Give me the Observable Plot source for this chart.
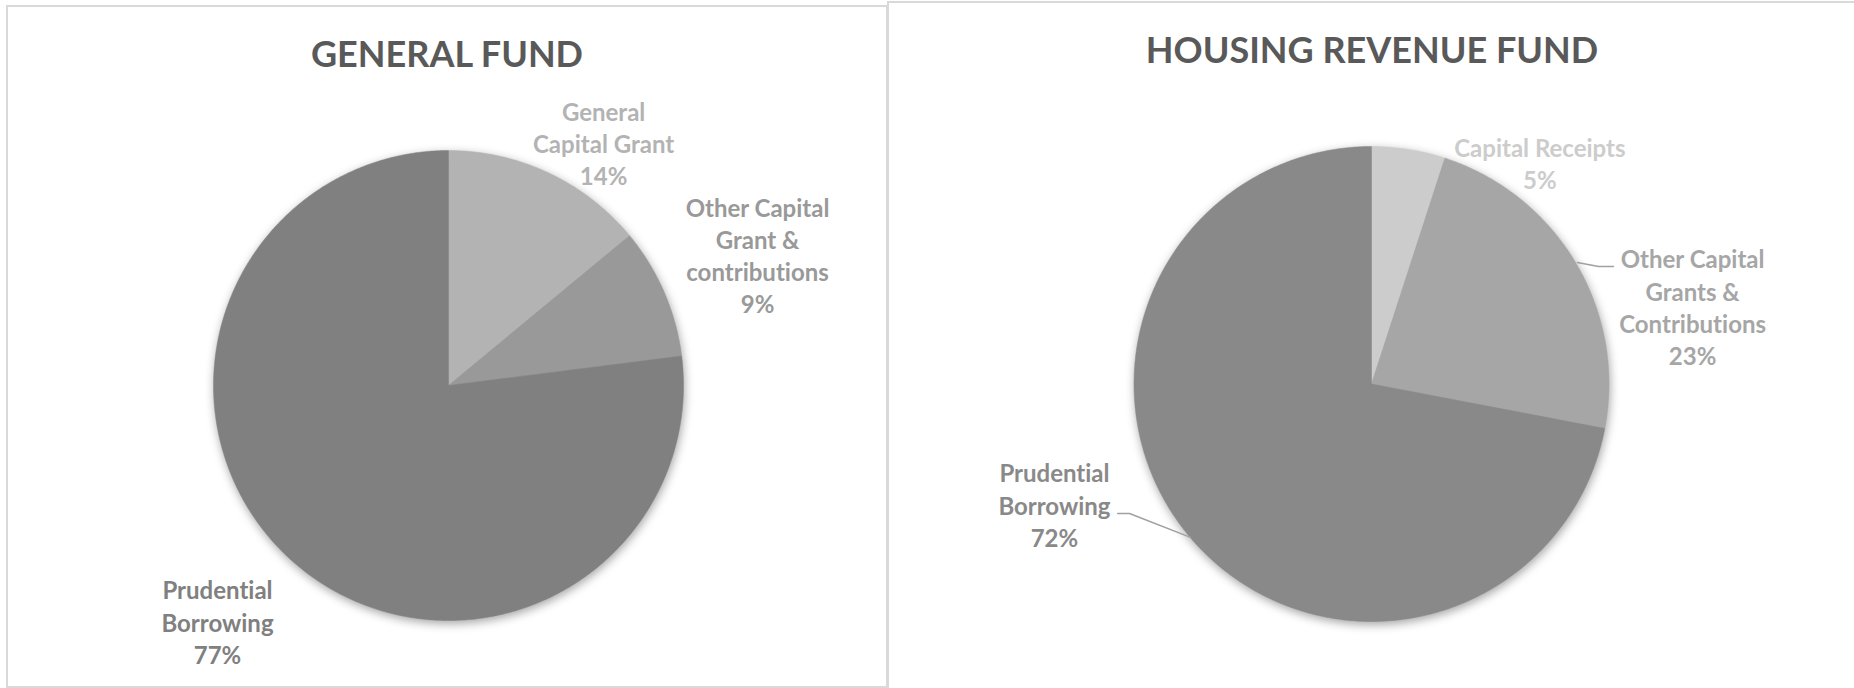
<!DOCTYPE html>
<html><head><meta charset="utf-8">
<script src="https://cdn.jsdelivr.net/npm/d3@7"></script>
<script src="https://cdn.jsdelivr.net/npm/@observablehq/plot@0.6"></script>
<style>
body{margin:0;background:#fff;font-family:Lato,"Open Sans",sans-serif;overflow:hidden;}
#wrap{position:relative;width:1854px;height:688px;overflow:hidden;background:#fff;}
.panel{position:absolute;border:2px solid #d9d9d9;box-sizing:border-box;background:#fff;}
.title{position:absolute;left:0;right:0;top:28px;text-align:center;font-weight:700;font-size:36px;line-height:36px;color:#595959;white-space:nowrap;font-variant-ligatures:none;}
.panel svg{position:absolute;left:0;top:0;font-variant-ligatures:none;}
</style></head><body>
<div id="wrap">
  <div class="panel" id="left" style="left:6px;top:5px;width:882px;height:683px"></div>
  <div class="panel" id="right" style="left:887px;top:1px;width:970px;height:700px"></div>
</div>
<script>
// ---- data ----
const gfTitle = "GENERAL FUND";
const gfCategories = ["General\nCapital Grant", "Other Capital\nGrant &\ncontributions", "Prudential\nBorrowing"];
const gfValues = [14, 9, 77];
const hrTitle = "HOUSING REVENUE FUND";
const hrCategories = ["Capital Receipts", "Other Capital\nGrants &\nContributions", "Prudential\nBorrowing"];
const hrValues = [5, 23, 72];

// ---- layout / style (not data) ----
const layouts = {
  gf: {w: 878, h: 678, cx: 440, cy: 378, r: 235,
       colors: ["#b3b3b3", "#999999", "#808080"],
       labels: [[0.66, 1.021], [1.315, 0.543], [-0.983, -1.016]],
       leaders: []},
  hr: {w: 966, h: 697, cx: 482, cy: 380.5, r: 237.5,
       colors: ["#cccccc", "#a6a6a6", "#898989"],
       labels: [[0.709, 0.92], [1.352, 0.314], [-1.335, -0.519]],
       leaders: [[[0.867, 0.512], [0.956, 0.495], [1.019, 0.495]],
                 [[-0.762, -0.646], [-1.019, -0.545], [-1.069, -0.545]]]}
};

function drawPie(el, title, cats, vals, L) {
  const total = d3.sum(vals);
  const slices = [];
  let acc = 0;
  cats.forEach((c, i) => {
    const a0 = acc / total * 2 * Math.PI;
    acc += vals[i];
    const a1 = acc / total * 2 * Math.PI;
    slices.push({name: c, value: vals[i], a0, a1});
  });
  const pts = [];
  for (const s of slices) {
    pts.push({name: s.name, x: 0, y: 0});
    const n = Math.max(2, Math.ceil((s.a1 - s.a0) / 0.01));
    for (let k = 0; k <= n; k++) {
      const a = s.a0 + (s.a1 - s.a0) * k / n;
      pts.push({name: s.name, x: Math.sin(a), y: Math.cos(a)});
    }
    pts.push({name: s.name, x: 0, y: 0});
  }
  const labels = slices.map((s, i) => ({
    name: s.name, x: L.labels[i][0], y: L.labels[i][1],
    text: s.name + "\n" + Math.round(s.value / total * 100) + "%"
  }));
  const leaderPts = [];
  L.leaders.forEach((ld, j) => ld.forEach(p => leaderPts.push({id: "L" + j, x: p[0], y: p[1]})));

  const svg = Plot.plot({
    width: L.w, height: L.h,
    style: {fontFamily: "Lato, 'Open Sans', sans-serif", background: "transparent"},
    x: {domain: [-1, 1], range: [L.cx - L.r, L.cx + L.r], axis: null},
    y: {domain: [-1, 1], range: [L.cy + L.r, L.cy - L.r], axis: null},
    color: {domain: cats, range: L.colors},
    marks: [
      Plot.line(pts, {x: "x", y: "y", z: "name", fill: "name", stroke: "name", strokeWidth: 0.5}),
      Plot.line(leaderPts, {x: "x", y: "y", z: "id", stroke: "#a0a0a0", strokeWidth: 1.5}),
      Plot.text(labels, {x: "x", y: "y", text: "text", fill: "name", fontSize: 24, fontWeight: 700, lineHeight: 1.34, dy: -3, textAnchor: "middle"})
    ]
  });
  const g = svg.querySelector('g[aria-label="line"]');
  if (g) g.style.filter = "drop-shadow(1px 3px 5px rgba(0,0,0,0.35))";
  const t = document.createElement("div");
  t.className = "title";
  t.textContent = title;
  el.appendChild(svg);
  el.appendChild(t);
}

drawPie(document.getElementById("left"), gfTitle, gfCategories, gfValues, layouts.gf);
drawPie(document.getElementById("right"), hrTitle, hrCategories, hrValues, layouts.hr);
</script>
</body></html>
